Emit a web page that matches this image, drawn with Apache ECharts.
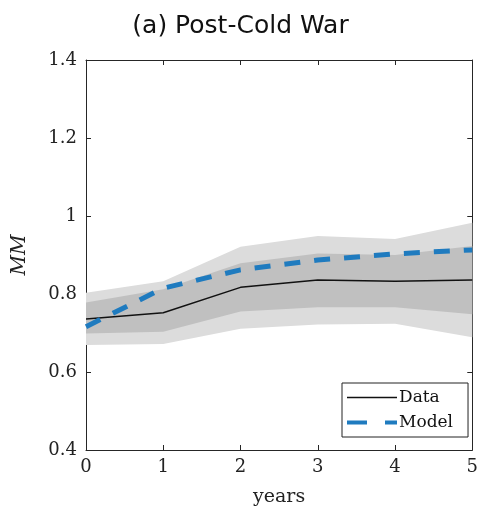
<!DOCTYPE html>
<html><head><meta charset="utf-8">
<script src="https://cdn.jsdelivr.net/npm/echarts@6/dist/echarts.min.js"></script>
<style>html,body{margin:0;padding:0;background:#fff}#c{width:481px;height:513px}</style>
</head><body><div id="c"></div>
<script>
const years = [0, 1, 2, 3, 4, 5];
const dataLine = [0.736, 0.752, 0.817, 0.836, 0.833, 0.836];
const modelLine = [0.716, 0.815, 0.862, 0.887, 0.903, 0.913];
const outerLow = [0.669, 0.672, 0.711, 0.722, 0.724, 0.689];
const outerHigh = [0.803, 0.833, 0.921, 0.949, 0.941, 0.983];
const innerLow = [0.699, 0.703, 0.755, 0.766, 0.766, 0.748];
const innerHigh = [0.778, 0.812, 0.879, 0.904, 0.900, 0.923];
const yTicks = [0.4, 0.6, 0.8, 1, 1.2, 1.4];

const pairs = (arr) => years.map((x, i) => [x, arr[i]]);

function bandSeries(name, low, high, color, z) {
  const rows = years.map((x, i) => [x, low[i], high[i]]);
  return {
    name: name, type: 'custom', silent: true, z: z,
    data: rows,
    encode: { x: 0, y: [1, 2] },
    renderItem: function (params, api) {
      if (params.dataIndex !== 0) return null;
      const top = rows.map(r => api.coord([r[0], r[2]]));
      const bot = rows.slice().reverse().map(r => api.coord([r[0], r[1]]));
      return { type: 'polygon', shape: { points: top.concat(bot) }, style: { fill: color, stroke: null } };
    }
  };
}

const chart = echarts.init(document.getElementById('c'));
const serif = 'DejaVu Serif';
const axisCol = '#262626';
const dataIcon = 'path://M0,0L50,0L50,0.01L0,0.01Z M0,5.2H50V6.8H0Z M0,11.99L50,11.99L50,12L0,12Z';
const modelIcon = 'path://M0,0L50,0L50,0.01L0,0.01Z M0,4H20V8H0Z M38,4H50V8H38Z M0,11.99L50,11.99L50,12L0,12Z';
chart.setOption({
  animation: false,
  title: { text: '(a) Post-Cold War', left: 'center', top: 9,
    textStyle: { fontFamily: 'DejaVu Sans', fontWeight: 'normal', fontSize: 25, color: '#111' } },
  grid: { left: 86, right: 7, top: 60, bottom: 63 },
  legend: {
    data: [{ name: 'Data', icon: dataIcon }, { name: 'Model', icon: modelIcon }],
    orient: 'vertical', left: 342, bottom: 76,
    backgroundColor: '#fff', borderColor: '#222', borderWidth: 1, padding: [6, 15, 6, 5],
    itemWidth: 50, itemHeight: 12, itemGap: 8,
    textStyle: { fontFamily: serif, fontSize: 17, color: '#111', padding: [0, 0, 0, -3] }
  },
  xAxis: [
    { type: 'value', min: 0, max: 5, interval: 1, name: 'years', nameLocation: 'middle', nameGap: 38,
      nameTextStyle: { fontFamily: serif, fontSize: 19, color: '#222' },
      axisLine: { show: true, lineStyle: { color: axisCol } },
      axisTick: { show: true, inside: true, length: 5, lineStyle: { color: axisCol } },
      axisLabel: { fontFamily: serif, fontSize: 18, color: '#222', margin: 8 },
      splitLine: { show: false } },
    { type: 'value', position: 'top', min: 0, max: 5, interval: 1,
      axisLine: { show: true, onZero: false, lineStyle: { color: axisCol } },
      axisTick: { show: true, inside: true, length: 5, lineStyle: { color: axisCol } },
      axisLabel: { show: false }, splitLine: { show: false } }
  ],
  yAxis: [
    { type: 'value', min: 0.4, max: 1.4, interval: 0.2, name: 'MM', nameLocation: 'middle', nameGap: 56,
      nameTextStyle: { fontFamily: serif, fontStyle: 'italic', fontSize: 20, color: '#222' },
      axisLine: { show: true, lineStyle: { color: axisCol } },
      axisTick: { show: true, inside: true, length: 5, lineStyle: { color: axisCol } },
      axisLabel: { fontFamily: serif, fontSize: 18, color: '#222', margin: 9,
        formatter: (v) => { const t = yTicks.find(k => Math.abs(k - v) < 1e-9); return t === undefined ? '' : String(t); } },
      splitLine: { show: false } },
    { type: 'value', position: 'right', min: 0.4, max: 1.4, interval: 0.2,
      axisLine: { show: true, onZero: false, lineStyle: { color: axisCol } },
      axisTick: { show: true, inside: true, length: 5, lineStyle: { color: axisCol } },
      axisLabel: { show: false }, splitLine: { show: false } }
  ],
  series: [
    bandSeries('outer', outerLow, outerHigh, '#dcdcdc', 1),
    bandSeries('inner', innerLow, innerHigh, '#c0c0c0', 2),
    { name: 'Data', type: 'line', data: pairs(dataLine), symbol: 'none', z: 3,
      lineStyle: { color: '#111', width: 1.5 }, itemStyle: { color: '#111' } },
    { name: 'Model', type: 'line', data: pairs(modelLine), symbol: 'none', z: 4,
      lineStyle: { color: '#1f7bbf', width: 5, type: [16, 14] }, itemStyle: { color: '#1f7bbf' } }
  ]
});
</script></body></html>
